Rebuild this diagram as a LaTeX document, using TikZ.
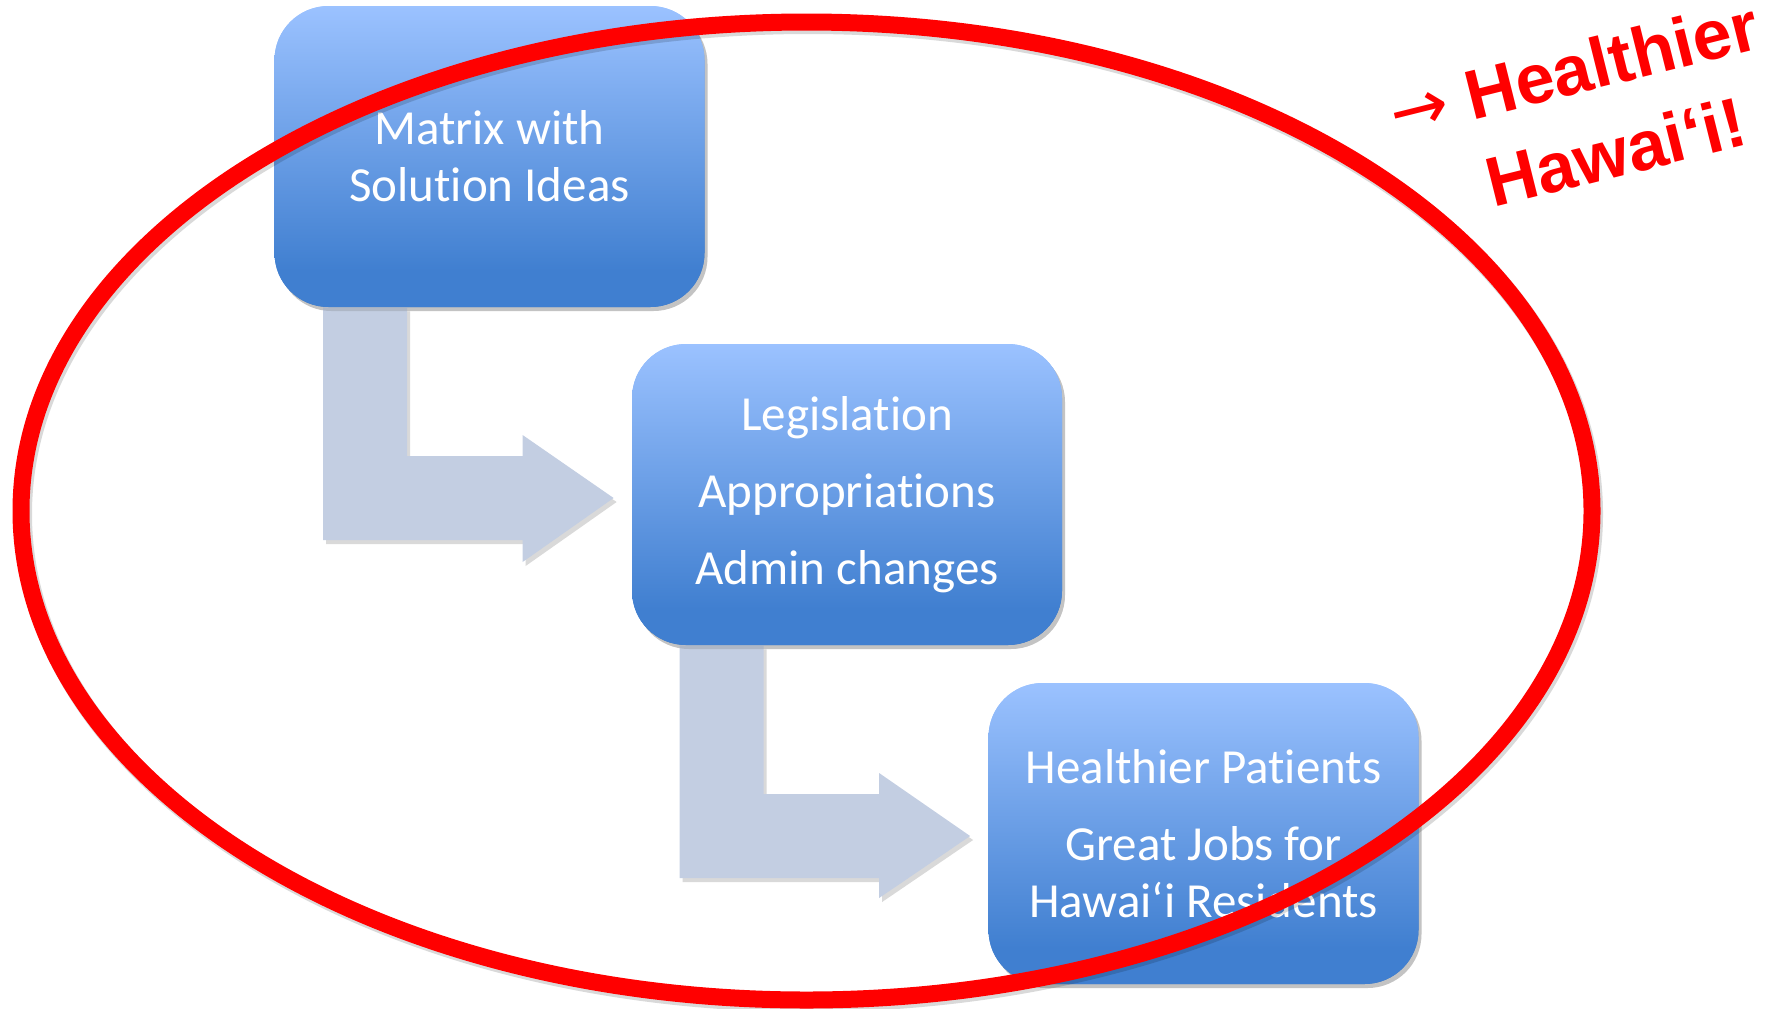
\documentclass[tikz,border=0pt]{standalone}
\usepackage{fontspec}
\setmainfont{Carlito}[Ligatures=NoCommon]
\newfontfamily\redfont{Liberation Sans}
\newfontfamily\arrowfont{DejaVu Sans}
\usetikzlibrary{calc,shadows}
\definecolor{boxtop}{RGB}{155,194,255}
\definecolor{boxbot}{RGB}{64,127,208}
\definecolor{arrowcol}{RGB}{195,206,226}
\definecolor{hred}{RGB}{255,0,0}
\pgfdeclareverticalshading{boxgrad}{100bp}{color(0bp)=(boxbot); color(31bp)=(boxbot); color(75bp)=(boxtop); color(100bp)=(boxtop)}
\begin{document}
\begin{tikzpicture}[x=0.5pt,y=-0.5pt,
  stepbox/.style={rounded corners=27pt, shading=boxgrad, minimum width=215pt, minimum height=150.5pt,
    text=white, align=center, inner sep=0pt, font=\fontsize{24.5}{28.5}\selectfont,
    drop shadow={shadow xshift=1.5pt, shadow yshift=-2pt, opacity=0.22, fill=black!60}},
  bentarrow/.style={fill=arrowcol, drop shadow={shadow xshift=1.5pt, shadow yshift=-2pt, opacity=0.25, fill=black!60}},
  redtext/.style={rotate=14, anchor=base west, inner sep=0pt, text=hred, font=\redfont\bfseries\fontsize{35}{42}\selectfont}
]
\useasboundingbox (0,0) rectangle (1777,1008);
% boxes (placed first so the arrows can be attached to them)
\node[stepbox] (m1) at (489.5,156.5) {Matrix with\\Solution Ideas};
\node[stepbox] (m2) at (847,494.5) {Legislation\\[10pt]Appropriations\\[10pt]Admin changes};
\node[stepbox] (m3) at (1203.5,833.5) {Healthier Patients\\[10pt]Great Jobs for\\Hawai‘i Residents};
% bent arrows
\coordinate (a1) at ($(m1.south west)+(49,0)$);
\coordinate (a2) at ($(m1.south west)+(133,0)$);
\coordinate (t1) at ($(m2.west)+(-18,3.5)$);
\coordinate (b1) at ($(m2.south west)+(48,0)$);
\coordinate (b2) at ($(m2.south west)+(132,0)$);
\coordinate (t2) at ($(m3.west)+(-18,2.5)$);
\fill[bentarrow] (a1) -- (a2) -- ($(a2|-t1)+(0,-42)$) -- ($(t1)+(-91,-42)$) -- ($(t1)+(-91,-63)$) -- (t1)
  -- ($(t1)+(-91,64)$) -- ($(t1)+(-91,42)$) -- ($(a1|-t1)+(0,42)$) -- cycle;
\fill[bentarrow] (b1) -- (b2) -- ($(b2|-t2)+(0,-42)$) -- ($(t2)+(-91,-42)$) -- ($(t2)+(-91,-63)$) -- (t2)
  -- ($(t2)+(-91,62)$) -- ($(t2)+(-91,42)$) -- ($(b1|-t2)+(0,42)$) -- cycle;
% boxes drawn again on top of the arrows
\node[stepbox] at (m1) {Matrix with\\Solution Ideas};
\node[stepbox] at (m2) {Legislation\\[10pt]Appropriations\\[10pt]Admin changes};
\node[stepbox] at (m3) {Healthier Patients\\[10pt]Great Jobs for\\Hawai‘i Residents};
% ellipse
\draw[black, opacity=0.15, line width=9pt] (808.5,514) ellipse [x radius=785.5, y radius=489];
\draw[hred, line width=8.5pt] (806.5,511) ellipse [x radius=785.5, y radius=489];
% red text
\node[redtext] (h1) at (1396,139) {{\arrowfont\mdseries →} Healthier};
\node[redtext] (h2) at (1493,208) {Hawai‘i!};
\end{tikzpicture}
\end{document}
